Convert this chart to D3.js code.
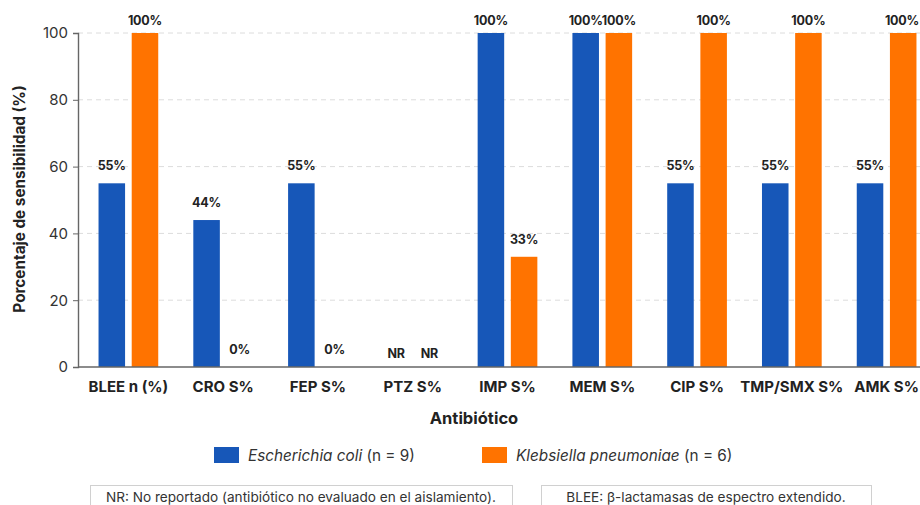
<!DOCTYPE html>
<html><head><meta charset="utf-8">
<script src="https://cdn.jsdelivr.net/npm/d3@7"></script>
<style>
html,body{margin:0;padding:0;background:#fff;}
svg{display:block;font-family:Inter,"Noto Sans",Arial,sans-serif;}
</style></head>
<body><svg id="chart" width="920" height="505"></svg>
<script>
const categories = ["BLEE n (%)","CRO S%","FEP S%","PTZ S%","IMP S%","MEM S%","CIP S%","TMP/SMX S%","AMK S%"];
const seriesNames = ["Escherichia coli","Klebsiella pneumoniae"];
const seriesN = [9, 6];
const ecoliValues = [55, 44, 55, null, 100, 100, 55, 55, 55];
const kpneuValues = [100, 0, 0, null, 33, 100, 100, 100, 100];
const yTicks = [0, 20, 40, 60, 80, 100];
const colors = ["#1757B8", "#FF7300"];
const notes = ["NR: No reportado (antibiótico no evaluado en el aislamiento).", "BLEE: β-lactamasas de espectro extendido."];

const svg = d3.select("#chart");
const x0 = d3.scaleBand().domain(categories).range([81, 934]).paddingInner(0.37).paddingOuter(0.185);
const x1 = d3.scaleBand().domain(seriesNames).range([0, x0.bandwidth()]).paddingInner(0.2);
const y = d3.scaleLinear().domain([0, 100]).range([367, 33]);

// grid
svg.append("g").selectAll("line").data(yTicks.filter(t => t > 0)).join("line")
  .attr("x1", 78).attr("x2", 920).attr("y1", d => y(d)).attr("y2", d => y(d))
  .attr("stroke", "#dcdcdc").attr("stroke-dasharray", "5,4").attr("stroke-width", 1);

// y axis
const yAxis = svg.append("g").attr("transform", "translate(78,0)")
  .call(d3.axisLeft(y).tickValues(yTicks).tickSize(5).tickPadding(5));
yAxis.select(".domain").attr("stroke", "#666").attr("stroke-width", 1.4);
yAxis.selectAll(".tick line").attr("stroke", "#666");
yAxis.selectAll("text").attr("font-size", 15).attr("fill", "#333").attr("font-family", "Inter, sans-serif");

// bars
const rows = categories.map((c, i) => ({cat: c, vals: [ecoliValues[i], kpneuValues[i]]}));
const groups = svg.append("g").selectAll("g").data(rows).join("g")
  .attr("transform", d => `translate(${x0(d.cat)},0)`);
groups.selectAll("rect").data(d => d.vals.map((v, j) => ({v, s: seriesNames[j], j})).filter(e => e.v !== null && e.v > 0))
  .join("rect")
  .attr("x", e => x1(e.s)).attr("width", x1.bandwidth())
  .attr("y", e => y(e.v)).attr("height", e => y(0) - y(e.v))
  .attr("fill", e => colors[e.j]);
groups.selectAll("text").data(d => d.vals.map((v, j) => ({v, s: seriesNames[j], j, cat: d.cat})))
  .join("text")
  .attr("x", e => Math.min(x1(e.s) + x1.bandwidth() / 2, 902 - x0(e.cat)))
  .attr("y", e => e.v === null ? 358 : Math.max(25, Math.min(358, y(e.v) - 13)))
  .attr("text-anchor", "middle").attr("font-weight", 700).attr("font-size", 12.5)
  .attr("letter-spacing", -0.2).attr("fill", "#222")
  .text(e => e.v === null ? "NR" : e.v + "%");

// x axis
const xAxis = svg.append("g").attr("transform", "translate(0,367)")
  .call(d3.axisBottom(x0).tickSize(0).tickPadding(14));
xAxis.select(".domain").attr("stroke", "#666").attr("stroke-width", 1.4).attr("d", "M78,0H920");
xAxis.selectAll("text").attr("font-size", 15).attr("font-weight", 700).attr("fill", "#222").attr("font-family", "Inter, sans-serif");

// axis titles
svg.append("text").attr("x", 474).attr("y", 424).attr("text-anchor", "middle")
  .attr("font-size", 16.5).attr("font-weight", 700).attr("fill", "#222").text("Antibiótico");
svg.append("text").attr("transform", "translate(25,199) rotate(-90)").attr("text-anchor", "middle")
  .attr("font-size", 15.3).attr("font-weight", 700).attr("fill", "#222").text("Porcentaje de sensibilidad (%)");

// legend
const legX = [214, 482];
seriesNames.forEach((s, i) => {
  const g = svg.append("g").attr("transform", `translate(${legX[i]},447)`);
  g.append("rect").attr("width", 25).attr("height", 16).attr("fill", colors[i]);
  const t = g.append("text").attr("x", 34).attr("y", 14).attr("font-size", 15.3).attr("fill", "#333");
  t.append("tspan").attr("font-style", "italic").text(s);
  t.append("tspan").text(` (n = ${seriesN[i]})`);
});

// notes
const boxes = [[90, 512], [541, 871]];
notes.forEach((n, i) => {
  const [a, b] = boxes[i];
  svg.append("rect").attr("x", a + 0.5).attr("y", 485.5).attr("width", b - a).attr("height", 40)
    .attr("fill", "#fff").attr("stroke", "#d0d0d0");
  svg.append("text").attr("x", (a + b) / 2).attr("y", 502).attr("text-anchor", "middle")
    .attr("font-size", 13.6).attr("fill", "#333").text(n);
});
</script></body></html>
